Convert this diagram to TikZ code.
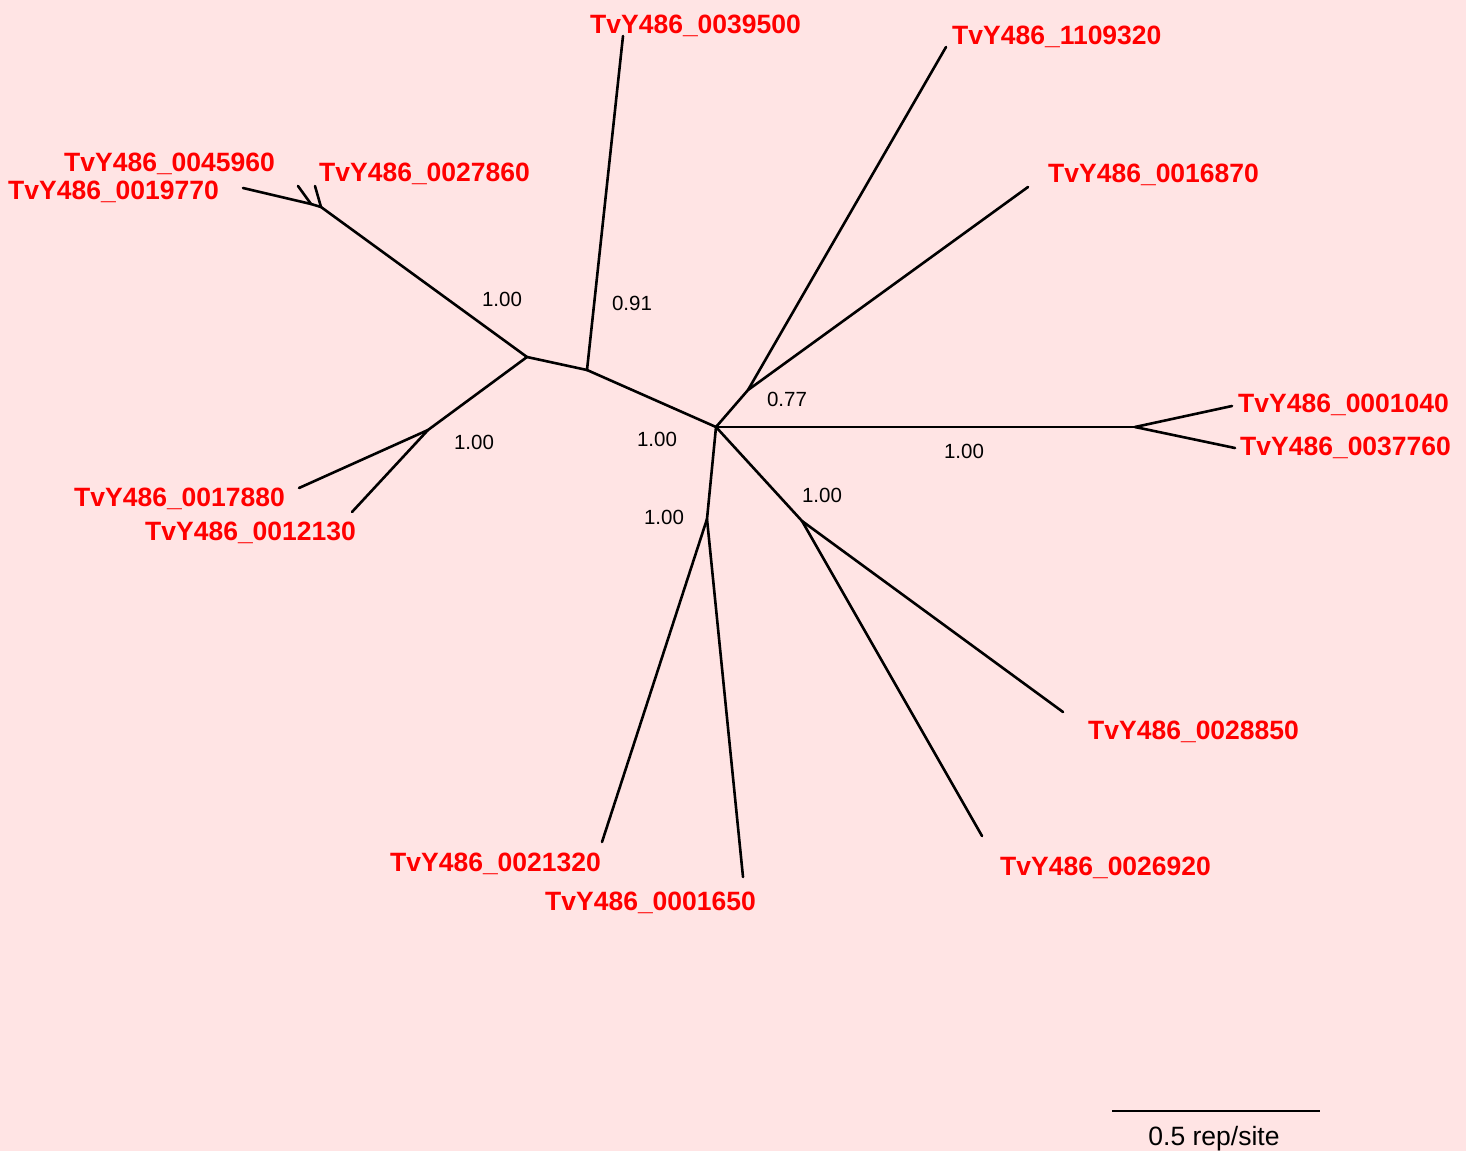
\documentclass[tikz,border=0pt]{standalone}
\usepackage{fontspec}
\setmainfont{Liberation Sans}
\definecolor{bg}{RGB}{255,228,228}
\definecolor{lab}{RGB}{255,0,0}
\begin{document}
\begin{tikzpicture}[x=1pt,y=-1pt,
  br/.style={line width=2.6pt,line cap=round},
  leaf/.style={font=\fontsize{26.5}{30}\selectfont\bfseries,text=lab,inner sep=0pt,anchor=west,yshift=-2pt},
  boot/.style={font=\fontsize{20.5}{24}\selectfont,inner sep=0pt,yshift=-1pt},
  scl/.style={font=\fontsize{26.5}{30}\selectfont,inner sep=0pt,yshift=-2pt}]
\fill[bg] (0,0) rectangle (1466,1151);
\useasboundingbox (0,0) rectangle (1466,1151);
% internal nodes
\coordinate (C) at (716,427);
\coordinate (N1) at (587,370);
\coordinate (N2) at (527,357);
\coordinate (N3) at (321,207);
\coordinate (N3b) at (311,204);
\coordinate (N4) at (428,430);
\coordinate (N5) at (748,390);
\coordinate (N6) at (1135,427);
\coordinate (N7) at (802,521);
\coordinate (N8) at (707,519);
% leaf ends
\coordinate (L19770) at (243,188);
\coordinate (L45960) at (298,186);
\coordinate (L27860) at (315,186);
\coordinate (L17880) at (299,488);
\coordinate (L12130) at (352,512);
\coordinate (L39500) at (623,36);
\coordinate (L1109320) at (946,47);
\coordinate (L16870) at (1028,187);
\coordinate (L01040) at (1232,406);
\coordinate (L37760) at (1235,448);
\coordinate (L28850) at (1063,712);
\coordinate (L26920) at (982,836);
\coordinate (L21320) at (602,842);
\coordinate (L01650) at (743,877);
% branches
\draw[br] (C) -- (N1);
\draw[br] (N1) -- (N2);
\draw[br] (N2) -- (N3);
\draw[br] (N3) -- (N3b);
\draw[br] (N3b) -- (L19770);
\draw[br] (N3b) -- (L45960);
\draw[br] (N3) -- (L27860);
\draw[br] (N2) -- (N4);
\draw[br] (N4) -- (L17880);
\draw[br] (N4) -- (L12130);
\draw[br] (N1) -- (L39500);
\draw[br] (C) -- (N5);
\draw[br] (N5) -- (L1109320);
\draw[br] (N5) -- (L16870);
\draw[br] (C) -- (N6);
\draw[br] (N6) -- (L01040);
\draw[br] (N6) -- (L37760);
\draw[br] (C) -- (N7);
\draw[br] (N7) -- (L28850);
\draw[br] (N7) -- (L26920);
\draw[br] (C) -- (N8);
\draw[br] (N8) -- (L21320);
\draw[br] (N8) -- (L01650);
% leaf labels
\node[leaf] (t45960) at (64,162) {TvY486\_0045960};
\node[leaf] (t19770) at (8,190) {TvY486\_0019770};
\node[leaf] (t27860) at (319,172) {TvY486\_0027860};
\node[leaf] (t39500) at (590,24) {TvY486\_0039500};
\node[leaf] (t1109320) at (952,35) {TvY486\_1109320};
\node[leaf] (t16870) at (1048,173) {TvY486\_0016870};
\node[leaf] (t01040) at (1238,403) {TvY486\_0001040};
\node[leaf] (t37760) at (1240,446) {TvY486\_0037760};
\node[leaf] (t17880) at (74,497) {TvY486\_0017880};
\node[leaf] (t12130) at (145,531) {TvY486\_0012130};
\node[leaf] (t28850) at (1088,730) {TvY486\_0028850};
\node[leaf] (t26920) at (1000,866) {TvY486\_0026920};
\node[leaf] (t21320) at (390,862) {TvY486\_0021320};
\node[leaf] (t01650) at (545,901) {TvY486\_0001650};
% support values
\node[boot] (b1) at (502,298) {1.00};
\node[boot] (b2) at (632,302) {0.91};
\node[boot] (b3) at (474,441) {1.00};
\node[boot] (b4) at (657,438) {1.00};
\node[boot] (b5) at (787,398) {0.77};
\node[boot] (b6) at (964,450) {1.00};
\node[boot] (b7) at (822,494) {1.00};
\node[boot] (b8) at (664,516) {1.00};
% scale bar
\coordinate (s1) at (1112,1111);
\coordinate (s2) at (1320,1111);
\draw[line width=2.6pt] (s1) -- (s2);
\node[scl] (st) at (1214,1137) {0.5 rep/site};
\end{tikzpicture}
\end{document}
